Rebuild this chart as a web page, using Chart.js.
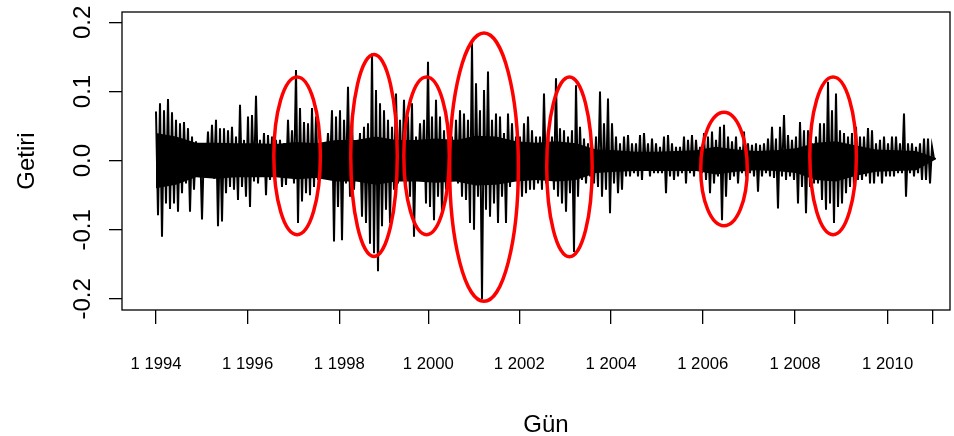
<!DOCTYPE html>
<html lang="tr">
<head>
<meta charset="UTF-8" />
<title>Getiri</title>
<script src="https://cdn.jsdelivr.net/npm/chart.js"></script>
<style>
  body { margin: 0; background: #fff; }
  #wrap { width: 954px; height: 436px; }
</style>
</head>
<body>
<div id="wrap"><canvas id="chart" width="954" height="436"></canvas></div>
<script>
const highs = [
  0.071, 0.083, 0.073, 0.089, 0.070, 0.059, 0.054, 0.056, 0.047, 0.035,
  0.028, 0.025, 0.023, 0.042, 0.052, 0.059, 0.047, 0.047, 0.044, 0.049,
  0.035, 0.081, 0.030, 0.064, 0.066, 0.094, 0.030, 0.040, 0.037, 0.035,
  0.030, 0.030, 0.025, 0.059, 0.044, 0.131, 0.076, 0.056, 0.054, 0.076,
  0.064, 0.025, 0.025, 0.040, 0.073, 0.064, 0.073, 0.059, 0.107, 0.059,
  0.025, 0.040, 0.049, 0.054, 0.155, 0.102, 0.083, 0.073, 0.059, 0.049,
  0.097, 0.059, 0.088, 0.064, 0.083, 0.035, 0.054, 0.059, 0.143, 0.064,
  0.088, 0.064, 0.044, 0.025, 0.035, 0.059, 0.073, 0.068, 0.059, 0.170,
  0.112, 0.073, 0.102, 0.129, 0.059, 0.068, 0.064, 0.040, 0.068, 0.054,
  0.035, 0.035, 0.054, 0.064, 0.044, 0.035, 0.035, 0.097, 0.044, 0.035,
  0.119, 0.047, 0.044, 0.035, 0.044, 0.109, 0.049, 0.032, 0.025, 0.025,
  0.035, 0.100, 0.054, 0.090, 0.054, 0.035, 0.025, 0.035, 0.037, 0.025,
  0.025, 0.037, 0.040, 0.025, 0.032, 0.025, 0.020, 0.035, 0.037, 0.025,
  0.020, 0.020, 0.035, 0.030, 0.037, 0.030, 0.020, 0.040, 0.035, 0.042,
  0.030, 0.049, 0.052, 0.035, 0.028, 0.035, 0.020, 0.042, 0.025, 0.023,
  0.025, 0.023, 0.025, 0.032, 0.049, 0.032, 0.049, 0.066, 0.037, 0.030,
  0.035, 0.056, 0.044, 0.044, 0.025, 0.035, 0.054, 0.054, 0.114, 0.073,
  0.097, 0.044, 0.040, 0.035, 0.040, 0.049, 0.035, 0.035, 0.047, 0.044,
  0.025, 0.030, 0.035, 0.025, 0.035, 0.035, 0.025, 0.068, 0.025, 0.025,
  0.020, 0.025, 0.032, 0.032, 0.020
];
const lows = [
  -0.079, -0.110, -0.062, -0.070, -0.062, -0.074, -0.047, -0.033, -0.074, -0.042,
  -0.023, -0.085, -0.018, -0.023, -0.026, -0.095, -0.088, -0.047, -0.038, -0.042,
  -0.057, -0.038, -0.052, -0.067, -0.030, -0.033, -0.023, -0.050, -0.028, -0.023,
  -0.023, -0.038, -0.035, -0.023, -0.033, -0.090, -0.059, -0.047, -0.050, -0.038,
  -0.028, -0.023, -0.009, -0.013, -0.117, -0.067, -0.115, -0.033, -0.052, -0.042,
  -0.028, -0.081, -0.090, -0.120, -0.134, -0.160, -0.095, -0.071, -0.090, -0.042,
  -0.033, -0.028, -0.033, -0.052, -0.110, -0.023, -0.018, -0.062, -0.067, -0.086,
  -0.052, -0.076, -0.042, -0.033, -0.023, -0.033, -0.052, -0.057, -0.090, -0.100,
  -0.052, -0.200, -0.071, -0.081, -0.062, -0.090, -0.052, -0.090, -0.038, -0.028,
  -0.038, -0.052, -0.047, -0.042, -0.042, -0.033, -0.042, -0.033, -0.028, -0.042,
  -0.052, -0.062, -0.074, -0.047, -0.132, -0.052, -0.028, -0.033, -0.023, -0.033,
  -0.038, -0.052, -0.042, -0.076, -0.033, -0.047, -0.042, -0.023, -0.023, -0.018,
  -0.023, -0.028, -0.013, -0.023, -0.018, -0.018, -0.018, -0.047, -0.023, -0.028,
  -0.023, -0.018, -0.033, -0.018, -0.023, -0.013, -0.018, -0.028, -0.047, -0.033,
  -0.023, -0.086, -0.052, -0.028, -0.023, -0.033, -0.018, -0.023, -0.018, -0.023,
  -0.045, -0.023, -0.018, -0.023, -0.025, -0.069, -0.023, -0.028, -0.023, -0.028,
  -0.062, -0.038, -0.076, -0.038, -0.033, -0.033, -0.057, -0.071, -0.062, -0.090,
  -0.067, -0.062, -0.047, -0.038, -0.038, -0.028, -0.028, -0.023, -0.033, -0.033,
  -0.023, -0.033, -0.023, -0.023, -0.023, -0.018, -0.018, -0.052, -0.018, -0.023,
  -0.018, -0.028, -0.028, -0.033, 0.003
];
const step = 11; // trading days between two plotted values

// the solid core of the band (most days fall inside it), every ~110 trading days
const coreHigh = [
  0.040, 0.035, 0.026, 0.026, 0.025, 0.025, 0.024, 0.027, 0.025, 0.030,
  0.030, 0.035, 0.030, 0.030, 0.032, 0.030, 0.036, 0.035, 0.028, 0.026,
  0.028, 0.025, 0.016, 0.015, 0.013, 0.013, 0.014, 0.015, 0.020, 0.016,
  0.014, 0.015, 0.018, 0.026, 0.028, 0.022, 0.016, 0.015, 0.014, 0.004
];
const coreLow = [
  -0.040, -0.035, -0.024, -0.026, -0.024, -0.024, -0.024, -0.027, -0.025, -0.030,
  -0.030, -0.035, -0.030, -0.030, -0.032, -0.030, -0.036, -0.035, -0.030, -0.028,
  -0.030, -0.028, -0.018, -0.016, -0.015, -0.015, -0.015, -0.015, -0.020, -0.016,
  -0.014, -0.015, -0.018, -0.028, -0.030, -0.022, -0.016, -0.015, -0.014, 0.002
];
const coreStep = 110;

// x axis: trading-day index of the first day of each labelled year
const tickDays = [0, 504, 1008, 1498, 1998, 2503, 3007, 3515, 4024, 4272];
const tickLabels = ["1 1994", "1 1996", "1 1998", "1 2000", "1 2002",
                    "1 2004", "1 2006", "1 2008", "1 2010", ""];
const yTicks = [-0.2, -0.1, 0, 0.1, 0.2];
const yLabels = ["-0.2", "-0.1", "0.0", "0.1", "0.2"];

// red ellipses: centre day, centre return, half width (days), half height (return)
const ellDay = [776, 1199, 1488, 1804, 2274, 3124, 3724];
const ellRet = [0.007, 0.0075, 0.007, -0.0095, -0.009, -0.012, 0.007];
const ellHalfDays = [128, 128, 125, 189, 125, 128, 128];
const ellHalfRet = [0.114, 0.146, 0.114, 0.194, 0.130, 0.082, 0.114];

const series = [];
highs.forEach((h, k) => {
  series.push({ x: 2 * k * step, y: h });
  series.push({ x: (2 * k + 1) * step, y: lows[k] });
});
const coreTop = coreHigh.map((v, j) => ({ x: j * coreStep, y: v }));
const coreBottom = coreLow.map((v, j) => ({ x: j * coreStep, y: v }));

const FONT = '"Liberation Sans", Arial, Helvetica, sans-serif';

const rStyle = {
  id: "rStyle",
  afterDatasetsDraw(chart) {
    const { ctx, chartArea: a, scales: { x, y } } = chart;
    ctx.save();
    // ellipses
    ctx.strokeStyle = "#ff0000";
    ctx.lineWidth = 3.5;
    ellDay.forEach((d, i) => {
      const cx = x.getPixelForValue(d);
      const cy = y.getPixelForValue(ellRet[i]);
      const rx = x.getPixelForValue(d + ellHalfDays[i]) - cx;
      const ry = cy - y.getPixelForValue(ellRet[i] + ellHalfRet[i]);
      ctx.beginPath();
      ctx.ellipse(cx, cy, rx, ry, 0, 0, Math.PI * 2);
      ctx.stroke();
    });
    // box
    ctx.strokeStyle = "#000";
    ctx.lineWidth = 1.3;
    ctx.strokeRect(a.left, a.top, a.right - a.left, a.bottom - a.top);
    // rotated y tick labels
    ctx.fillStyle = "#000";
    ctx.font = "24px " + FONT;
    ctx.textAlign = "center";
    ctx.textBaseline = "middle";
    yTicks.forEach((v, i) => {
      ctx.save();
      ctx.translate(83, y.getPixelForValue(v));
      ctx.rotate(-Math.PI / 2);
      ctx.fillText(yLabels[i], 0, 0);
      ctx.restore();
    });
    // axis titles
    ctx.save();
    ctx.translate(34, (a.top + a.bottom) / 2);
    ctx.rotate(-Math.PI / 2);
    ctx.textBaseline = "alphabetic";
    ctx.fillText("Getiri", 0, 0);
    ctx.restore();
    ctx.textBaseline = "alphabetic";
    ctx.fillText("Gün", 546, 432);
    ctx.restore();
  }
};

new Chart(document.getElementById("chart"), {
  type: "line",
  data: {
    datasets: [
      {
        data: series,
        borderColor: "#000",
        borderWidth: 2,
        pointRadius: 0,
        tension: 0,
        fill: false
      },
      {
        data: coreTop,
        borderWidth: 0,
        pointRadius: 0,
        tension: 0,
        backgroundColor: "#000",
        fill: "+1"
      },
      {
        data: coreBottom,
        borderWidth: 0,
        pointRadius: 0,
        tension: 0,
        fill: false
      }
    ]
  },
  options: {
    responsive: false,
    animation: false,
    events: [],
    layout: { padding: { left: 0, right: 4, top: 12, bottom: 0 } },
    plugins: { legend: { display: false }, tooltip: { enabled: false } },
    scales: {
      x: {
        type: "linear",
        min: -187,
        max: 4367,
        afterBuildTicks: s => { s.ticks = tickDays.map(v => ({ value: v })); },
        afterFit: s => { s.height = 126; s.paddingLeft = 0; s.paddingRight = 0; },
        border: { display: false },
        grid: { drawOnChartArea: false, drawTicks: true, tickLength: 14, color: "#000", lineWidth: 1.3 },
        ticks: {
          autoSkip: false,
          maxRotation: 0,
          padding: 30,
          color: "#000",
          font: { family: FONT, size: 16.7 },
          callback: (v, i) => tickLabels[i]
        }
      },
      y: {
        type: "linear",
        min: -0.216,
        max: 0.215,
        afterBuildTicks: s => { s.ticks = yTicks.map(v => ({ value: v })); },
        afterFit: s => { s.width = 122; s.paddingTop = 0; s.paddingBottom = 0; },
        border: { display: false },
        grid: { drawOnChartArea: false, drawTicks: true, tickLength: 13, color: "#000", lineWidth: 1.3 },
        ticks: { display: false }
      }
    }
  },
  plugins: [rStyle]
});
</script>
</body>
</html>
